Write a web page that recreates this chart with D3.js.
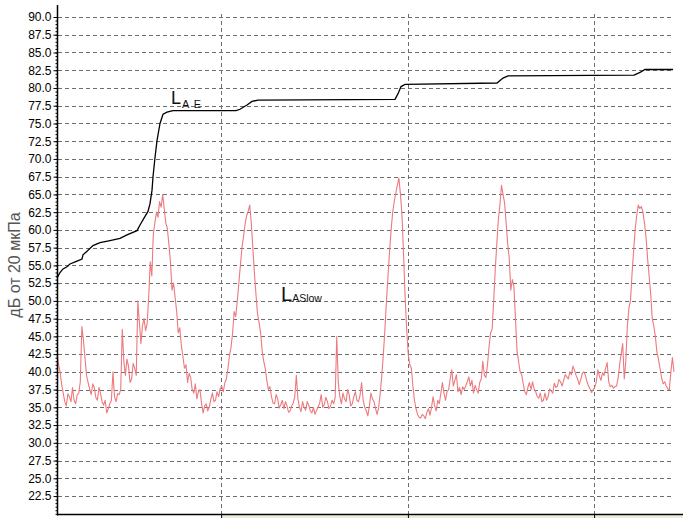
<!DOCTYPE html>
<html><head><meta charset="utf-8">
<script src="https://cdn.jsdelivr.net/npm/d3@7"></script>
<style>
html,body{margin:0;padding:0;background:#fff;}
svg{display:block;font-family:"Liberation Sans",Arial,sans-serif;}
</style></head><body>
<svg id="c" width="700" height="518"></svg>
<script>
// ---- data ----
const yTicks = [22.5,25.0,27.5,30.0,32.5,35.0,37.5,40.0,42.5,45.0,47.5,50.0,52.5,55.0,57.5,60.0,62.5,65.0,67.5,70.0,72.5,75.0,77.5,80.0,82.5,85.0,87.5,90.0];
const gridTimes = [52.8, 112.9, 172.8];           // seconds, vertical grid lines
const lasStep = 0.5;                                // seconds between LAS samples
const lasValues = [
42.5,41.0,40.0,38.2,37.0,35.8,35.2,36.9,36.5,35.8,37.8,36.0,35.5,36.8,37.0,38.6,46.4,44.5,42.0,39.5,
38.5,37.6,36.8,38.3,37.8,36.4,36.0,37.8,37.0,35.8,35.3,36.0,34.2,34.8,35.5,36.0,40.0,36.5,35.8,36.9,
36.8,37.5,46.0,41.5,39.5,41.8,40.8,38.5,39.0,41.2,40.5,39.5,50.0,47.0,44.0,46.5,47.5,45.8,46.8,50.5,
55.5,53.5,59.5,61.0,62.5,61.8,64.0,63.2,65.0,63.0,61.0,60.2,58.0,55.5,51.5,52.5,50.5,48.5,45.5,46.2,
43.8,42.2,40.5,41.0,38.5,39.8,39.2,37.5,37.0,38.3,36.2,37.2,37.5,35.6,34.2,35.2,35.5,34.5,35.0,36.2,
37.0,35.8,36.0,37.2,36.5,37.6,38.0,37.2,38.5,39.0,40.5,42.3,43.5,45.5,48.5,47.8,50.0,52.5,55.0,57.5,
59.0,60.8,62.0,62.6,63.5,61.0,57.5,54.0,51.0,48.2,47.0,45.5,43.0,41.5,40.5,38.8,37.5,37.9,36.5,35.6,
35.5,36.8,36.2,34.9,35.4,36.0,34.8,35.8,35.2,34.3,34.5,35.2,35.6,36.5,39.5,36.2,35.0,34.4,35.8,35.0,
34.6,35.8,35.3,34.5,34.2,35.0,34.0,34.6,35.0,35.6,36.8,35.0,35.4,36.4,35.8,34.8,35.2,36.0,35.5,36.4,
45.0,38.5,36.5,35.5,37.0,36.2,35.8,37.5,36.8,35.2,35.5,36.5,37.2,36.0,35.8,36.7,38.5,36.0,35.0,34.5,
33.8,35.2,37.0,36.2,35.8,34.8,34.0,35.0,37.0,39.5,42.5,46.0,50.0,53.5,57.0,60.0,62.5,64.0,65.2,66.3,
67.3,65.0,62.0,56.5,50.5,46.0,42.5,41.0,40.5,38.0,36.0,34.8,34.0,33.6,33.5,34.0,33.8,33.4,34.3,34.8,
33.9,35.0,36.5,35.2,34.5,36.0,35.5,37.0,38.5,37.0,36.0,37.2,37.5,39.0,40.3,38.0,38.8,39.6,37.2,37.8,
36.8,37.9,37.5,38.0,38.6,39.3,38.0,38.8,37.0,38.1,37.5,37.0,38.5,39.0,41.5,39.5,39.2,41.0,43.5,45.5,
46.0,50.0,54.5,58.0,61.5,63.5,66.3,65.0,63.8,61.0,58.0,56.0,51.5,53.0,52.0,47.5,43.0,41.5,40.0,39.6,
38.3,37.2,36.8,37.8,38.5,37.5,38.6,37.6,37.2,36.5,36.3,37.0,35.8,36.0,37.0,36.0,36.5,37.6,37.3,37.0,
38.4,37.8,38.0,38.9,38.6,38.0,38.8,39.6,39.3,39.0,40.0,39.6,40.8,40.2,39.5,39.0,38.2,38.9,39.8,40.0,
39.5,38.6,38.0,37.6,37.1,37.5,37.8,38.6,40.3,39.4,38.8,39.9,39.5,40.5,41.3,38.6,37.9,38.1,37.7,37.9,
38.0,39.0,41.0,42.5,44.0,39.0,41.5,46.5,49.0,50.0,53.8,57.0,60.0,62.0,63.5,63.0,63.3,62.5,61.0,59.0,
56.0,53.5,51.0,47.5,46.5,45.0,42.8,41.8,40.5,39.2,38.3,38.6,38.0,37.6,37.5,40.0,42.0,40.0
];
const laeTimes = [0,0.97,1.93,3.22,4.18,6.44,8.04,8.37,9.65,11.58,13.84,17.05,20.27,22.52,25.74,26.71,28.31,29.28,29.92,30.57,30.89,31.53,32.18,33.14,34.11,35.39,37.32,57.59,58.88,61.13,62.74,64.67,108.75,109.72,110.68,111.97,141.57,143.5,145.1,185.65,187.58,189.19,198.2];
const laeValues = [53.2,54.0,54.5,54.8,55.2,55.6,55.9,56.5,57.0,57.8,58.2,58.5,58.8,59.3,59.9,60.7,61.9,62.6,63.7,65.6,67.5,70.2,72.6,75.0,76.3,76.6,76.8,76.8,77.0,77.6,78.1,78.3,78.4,79.2,80.2,80.5,80.7,81.4,81.7,81.8,82.2,82.6,82.6];
const yTitle = "дБ от 20 мкПа";

// ---- scales ----
const svg = d3.select("#c");
const x = d3.scaleLinear().domain([0, 201.4]).range([57, 683]);
const y = d3.scaleLinear().domain([19.9, 90]).range([514.5, 17]);
const gridRight = 673;

// bottom beige strip
svg.append("rect").attr("x", x(gridTimes[0])).attr("y", 515.5).attr("width", 683 - x(gridTimes[0])).attr("height", 3)
  .attr("fill", "#ecebd9");

// horizontal grid
svg.append("g").selectAll("line").data(yTicks).join("line")
  .attr("x1", 58).attr("x2", gridRight)
  .attr("y1", d => Math.round(y(d)) + 0.5).attr("y2", d => Math.round(y(d)) + 0.5)
  .attr("stroke", "#6e6e6e").attr("stroke-width", 1).attr("stroke-dasharray", "4,3");

// vertical grid
svg.append("g").selectAll("line").data(gridTimes).join("line")
  .attr("x1", d => Math.round(x(d)) + 0.5).attr("x2", d => Math.round(x(d)) + 0.5)
  .attr("y1", 14).attr("y2", 514)
  .attr("stroke", "#6e6e6e").attr("stroke-width", 1).attr("stroke-dasharray", "4,3");

// LAS line
const lasLine = d3.line().x((d, i) => x(i * lasStep)).y(d => y(d));
svg.append("path").datum(lasValues).attr("d", lasLine)
  .attr("fill", "none").attr("stroke", "#ec7a7e").attr("stroke-width", 1.1).attr("stroke-linejoin", "round");

// LAE line
const laeLine = d3.line().x((d, i) => x(laeTimes[i])).y(d => y(d));
svg.append("path").datum(laeValues).attr("d", laeLine)
  .attr("fill", "none").attr("stroke", "#000").attr("stroke-width", 1.3);

// y axis
const yAxis = d3.axisLeft(y).tickValues(yTicks).tickFormat(d3.format(".1f")).tickSize(4).tickPadding(2);
const ga = svg.append("g").attr("transform", "translate(57.5,0)").call(yAxis);
ga.select(".domain").remove();
ga.selectAll("text").attr("font-size", 12).attr("fill", "#000").attr("font-family", "'Liberation Sans',Arial,sans-serif");
ga.selectAll(".tick line").attr("stroke", "#000");
// minor ticks
const minor = d3.range(20, 90.01, 0.5);
const gm = svg.append("g").attr("transform", "translate(57.5,0)").call(d3.axisLeft(y).tickValues(minor).tickSize(2).tickFormat(""));
gm.select(".domain").remove();
gm.selectAll(".tick line").attr("stroke", "#000");

svg.append("line").attr("x1", 57.5).attr("x2", 57.5).attr("y1", 5).attr("y2", 515.5).attr("stroke", "#000").attr("stroke-width", 1.5);
// x axis line
const xAxis = d3.axisBottom(x).tickValues(gridTimes).tickSize(4).tickFormat("");
const gx = svg.append("g").attr("transform", "translate(0,514.5)").call(xAxis);
gx.select(".domain").remove();
gx.selectAll(".tick line").attr("stroke", "#000");
svg.append("line").attr("x1", 57).attr("x2", 683).attr("y1", 514.5).attr("y2", 514.5).attr("stroke", "#000").attr("stroke-width", 1.5);

// y title
svg.append("text").attr("transform", "translate(20,265) rotate(-90)").attr("text-anchor", "middle")
  .attr("font-size", 16).attr("fill", "#555").text(yTitle);

// labels
const t1 = svg.append("text").attr("x", 171).attr("y", 103.5).attr("fill", "#111");
t1.append("tspan").attr("font-size", 18).text("L");
t1.append("tspan").attr("font-size", 11).attr("dy", 4).attr("dx", 1).attr("letter-spacing", 1).text("A E");
const t2 = svg.append("text").attr("x", 281).attr("y", 300.5).attr("fill", "#111");
t2.append("tspan").attr("font-size", 20).text("L");
t2.append("tspan").attr("font-size", 10.5).attr("dy", 1.5).text("ASlow");
</script>
</body></html>
